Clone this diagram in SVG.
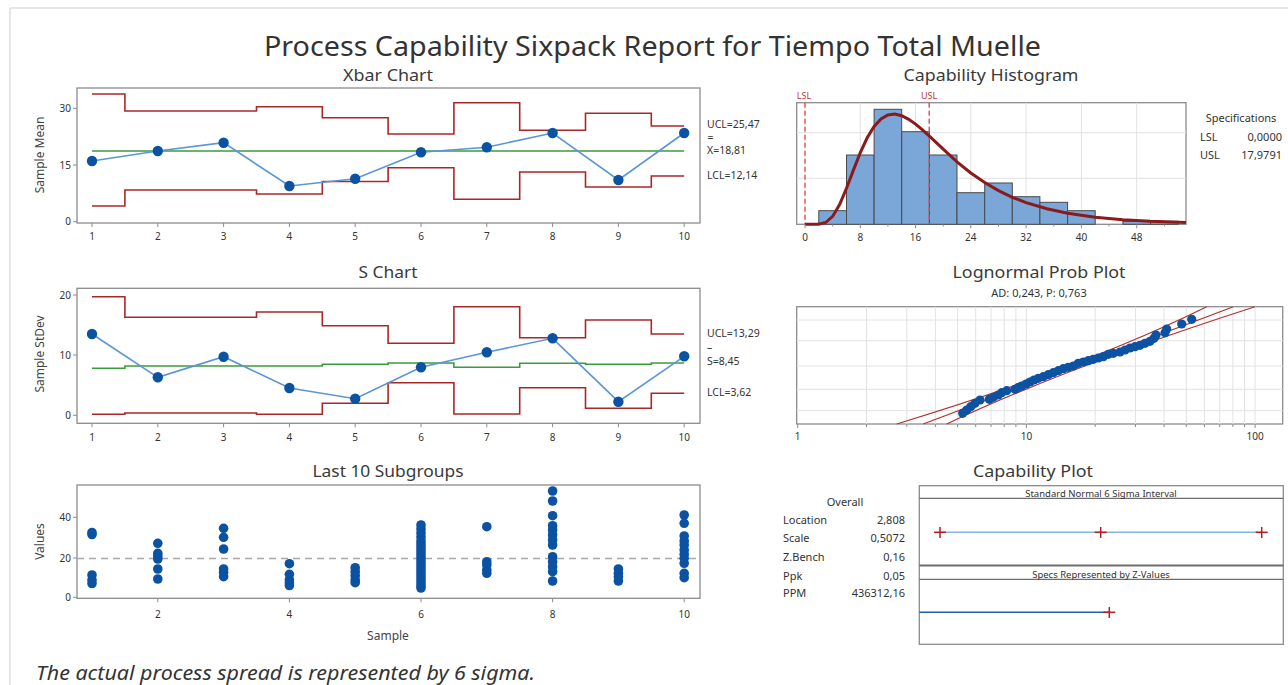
<svg xmlns="http://www.w3.org/2000/svg" width="1288" height="685" viewBox="0 0 1288 685">
<style>
text{font-family:"Noto Sans","Open Sans","Liberation Sans",sans-serif;fill:#333}
.ttl{font-size:17px;text-anchor:middle;fill:#3a3a3a}
.tk{font-size:10px;fill:#333}
.tkm{font-size:10px;text-anchor:middle;fill:#333}
.tkr{font-size:10px;text-anchor:end;fill:#333}
.lab{font-size:10.5px;fill:#333}
.ax{font-size:12px;text-anchor:middle;fill:#444}
.frame{fill:#fff;stroke:#8c8c8c;stroke-width:1.3}
.tick{stroke:#8c8c8c;stroke-width:1}
.lim{fill:none;stroke:#a82828;stroke-width:1.6}
.cl{fill:none;stroke:#3c9a3c;stroke-width:1.6}
.bl{fill:none;stroke:#5b95d6;stroke-width:1.6}
.dot{fill:#0b52a3}
.grid{stroke:#e2e2e2;stroke-width:1}
.bar{fill:#7aa6d8;stroke:#4a4a4a;stroke-width:1}
.spec{stroke:#e04a4a;stroke-width:1.4;stroke-dasharray:5,3}
.specl{font-size:9px;fill:#c03535;text-anchor:middle}
.ci{fill:none;stroke:#b03030;stroke-width:1.2}
.cross{stroke:#b02020;stroke-width:1.5}
</style>
<rect width="1288" height="685" fill="#fff"/>
<line x1="10" y1="8" x2="1288" y2="8" stroke="#e6e6e6" stroke-width="2"/>
<line x1="10" y1="8" x2="10" y2="685" stroke="#e6e6e6" stroke-width="2"/>
<text x="652.5" y="56" font-size="28" text-anchor="middle" textLength="777" lengthAdjust="spacingAndGlyphs" fill="#333">Process Capability Sixpack Report for Tiempo Total Muelle</text>

<g id="xbar-chart">
<text class="ttl" x="388" y="81" textLength="90" lengthAdjust="spacingAndGlyphs">Xbar Chart</text>
<rect class="frame" x="77" y="88" width="623" height="135"/>
<g class="tick">
<line x1="73" y1="108.3" x2="77" y2="108.3"/><line x1="73" y1="165" x2="77" y2="165"/><line x1="73" y1="221.7" x2="77" y2="221.7"/>
<line x1="92" y1="223" x2="92" y2="227"/><line x1="157.8" y1="223" x2="157.8" y2="227"/><line x1="223.6" y1="223" x2="223.6" y2="227"/><line x1="289.4" y1="223" x2="289.4" y2="227"/><line x1="355.2" y1="223" x2="355.2" y2="227"/><line x1="421" y1="223" x2="421" y2="227"/><line x1="486.8" y1="223" x2="486.8" y2="227"/><line x1="552.6" y1="223" x2="552.6" y2="227"/><line x1="618.4" y1="223" x2="618.4" y2="227"/><line x1="684.2" y1="223" x2="684.2" y2="227"/>
</g>
<text class="tkr" x="71" y="112">30</text><text class="tkr" x="71" y="168.5">15</text><text class="tkr" x="71" y="225">0</text>
<text class="tkm" x="92" y="240">1</text><text class="tkm" x="157.8" y="240">2</text><text class="tkm" x="223.6" y="240">3</text><text class="tkm" x="289.4" y="240">4</text><text class="tkm" x="355.2" y="240">5</text><text class="tkm" x="421" y="240">6</text><text class="tkm" x="486.8" y="240">7</text><text class="tkm" x="552.6" y="240">8</text><text class="tkm" x="618.4" y="240">9</text><text class="tkm" x="684.2" y="240">10</text>
<text class="ax" transform="translate(44,155) rotate(-90)">Sample Mean</text>
<path class="lim" d="M92,94 H124.9 V111 H256.5 V106.7 H322.3 V117.7 H388.1 V134 H453.9 V102.7 H519.7 V130.3 H585.5 V113.3 H651.3 V126 H684.2"/>
<path class="lim" d="M92,206 H124.9 V190 H256.5 V194 H322.3 V181.5 H388.1 V167.7 H453.9 V199.3 H519.7 V172 H585.5 V187 H651.3 V176 H684.2"/>
<path class="cl" d="M92,151 H684.2"/>
<polyline class="bl" points="92,161 157.8,151 223.6,142.7 289.4,186 355.2,178.7 421,152.3 486.8,147.3 552.6,133 618.4,180 684.2,133"/>
<g class="dot"><circle cx="92" cy="161" r="5.2"/><circle cx="157.8" cy="151" r="5.2"/><circle cx="223.6" cy="142.7" r="5.2"/><circle cx="289.4" cy="186" r="5.2"/><circle cx="355.2" cy="178.7" r="5.2"/><circle cx="421" cy="152.3" r="5.2"/><circle cx="486.8" cy="147.3" r="5.2"/><circle cx="552.6" cy="133" r="5.2"/><circle cx="618.4" cy="180" r="5.2"/><circle cx="684.2" cy="133" r="5.2"/></g>
<text class="lab" x="707" y="127.5">UCL=25,47</text>
<text class="lab" x="707.5" y="141" font-size="7">=</text>
<text class="lab" x="707" y="154">X=18,81</text>
<text class="lab" x="707" y="179">LCL=12,14</text>
</g>

<g id="s-chart">
<text class="ttl" x="388" y="278" textLength="59" lengthAdjust="spacingAndGlyphs">S Chart</text>
<rect class="frame" x="77" y="288.3" width="623" height="135"/>
<g class="tick">
<line x1="73" y1="295" x2="77" y2="295"/><line x1="73" y1="355" x2="77" y2="355"/><line x1="73" y1="415.3" x2="77" y2="415.3"/>
<line x1="92" y1="423.3" x2="92" y2="427.3"/><line x1="157.8" y1="423.3" x2="157.8" y2="427.3"/><line x1="223.6" y1="423.3" x2="223.6" y2="427.3"/><line x1="289.4" y1="423.3" x2="289.4" y2="427.3"/><line x1="355.2" y1="423.3" x2="355.2" y2="427.3"/><line x1="421" y1="423.3" x2="421" y2="427.3"/><line x1="486.8" y1="423.3" x2="486.8" y2="427.3"/><line x1="552.6" y1="423.3" x2="552.6" y2="427.3"/><line x1="618.4" y1="423.3" x2="618.4" y2="427.3"/><line x1="684.2" y1="423.3" x2="684.2" y2="427.3"/>
</g>
<text class="tkr" x="71" y="298.5">20</text><text class="tkr" x="71" y="358.5">10</text><text class="tkr" x="71" y="419">0</text>
<text class="tkm" x="92" y="441">1</text><text class="tkm" x="157.8" y="441">2</text><text class="tkm" x="223.6" y="441">3</text><text class="tkm" x="289.4" y="441">4</text><text class="tkm" x="355.2" y="441">5</text><text class="tkm" x="421" y="441">6</text><text class="tkm" x="486.8" y="441">7</text><text class="tkm" x="552.6" y="441">8</text><text class="tkm" x="618.4" y="441">9</text><text class="tkm" x="684.2" y="441">10</text>
<text class="ax" transform="translate(44,354) rotate(-90)">Sample StDev</text>
<path class="lim" d="M92,296.7 H124.9 V317.3 H256.5 V312 H322.3 V325.7 H388.1 V343.3 H453.9 V306.7 H519.7 V337.7 H585.5 V320 H651.3 V334 H684.2"/>
<path class="lim" d="M92,414.3 H124.9 V413 H256.5 V414.3 H322.3 V403.3 H388.1 V382.7 H453.9 V414 H519.7 V387.7 H585.5 V408.3 H651.3 V393.3 H684.2"/>
<path class="cl" d="M92,368.3 H124.9 V366 H322.3 V364.3 H388.1 V363 H453.9 V367.3 H519.7 V363.3 H585.5 V364.3 H651.3 V363 H684.2"/>
<polyline class="bl" points="92,334 157.8,377.3 223.6,356.7 289.4,388 355.2,398.7 421,367.3 486.8,352.3 552.6,338.3 618.4,401.7 684.2,356.3"/>
<g class="dot"><circle cx="92" cy="334" r="5.2"/><circle cx="157.8" cy="377.3" r="5.2"/><circle cx="223.6" cy="356.7" r="5.2"/><circle cx="289.4" cy="388" r="5.2"/><circle cx="355.2" cy="398.7" r="5.2"/><circle cx="421" cy="367.3" r="5.2"/><circle cx="486.8" cy="352.3" r="5.2"/><circle cx="552.6" cy="338.3" r="5.2"/><circle cx="618.4" cy="401.7" r="5.2"/><circle cx="684.2" cy="356.3" r="5.2"/></g>
<text class="lab" x="707" y="336.5">UCL=13,29</text>
<text class="lab" x="707" y="351" font-size="8">–</text>
<text class="lab" x="707" y="365">S=8,45</text>
<text class="lab" x="707" y="395.5">LCL=3,62</text>
</g>

<g id="last-10-subgroups">
<text class="ttl" x="388" y="477" textLength="151" lengthAdjust="spacingAndGlyphs">Last 10 Subgroups</text>
<rect class="frame" x="77" y="485" width="623" height="113.3"/>
<g class="tick">
<line x1="73" y1="517.3" x2="77" y2="517.3"/><line x1="73" y1="558" x2="77" y2="558"/><line x1="73" y1="597.3" x2="77" y2="597.3"/>
<line x1="157.8" y1="598.3" x2="157.8" y2="602.3"/><line x1="289.4" y1="598.3" x2="289.4" y2="602.3"/><line x1="421" y1="598.3" x2="421" y2="602.3"/><line x1="552.6" y1="598.3" x2="552.6" y2="602.3"/><line x1="684.2" y1="598.3" x2="684.2" y2="602.3"/>
</g>
<text class="tkr" x="71" y="521">40</text><text class="tkr" x="71" y="561.5">20</text><text class="tkr" x="71" y="601">0</text>
<text class="tkm" x="157.8" y="618">2</text><text class="tkm" x="289.4" y="618">4</text><text class="tkm" x="421" y="618">6</text><text class="tkm" x="552.6" y="618">8</text><text class="tkm" x="684.2" y="618">10</text>
<text class="ax" x="388" y="640">Sample</text>
<text class="ax" transform="translate(44,541.5) rotate(-90)">Values</text>
<line x1="77" y1="558.5" x2="700" y2="558.5" stroke="#a8a8a8" stroke-width="1.3" stroke-dasharray="7,5"/>
<g class="dot">
<circle cx="92" cy="532.5" r="4.8"/><circle cx="92" cy="534.5" r="4.8"/><circle cx="92" cy="575" r="4.8"/><circle cx="92" cy="580" r="4.8"/><circle cx="92" cy="583.5" r="4.8"/>
<circle cx="157.8" cy="543.3" r="4.8"/><circle cx="157.8" cy="553.3" r="4.8"/><circle cx="157.8" cy="556" r="4.8"/><circle cx="157.8" cy="559" r="4.8"/><circle cx="157.8" cy="569" r="4.8"/><circle cx="157.8" cy="579" r="4.8"/>
<circle cx="223.6" cy="528.3" r="4.8"/><circle cx="223.6" cy="537.3" r="4.8"/><circle cx="223.6" cy="549" r="4.8"/><circle cx="223.6" cy="569" r="4.8"/><circle cx="223.6" cy="572.3" r="4.8"/><circle cx="223.6" cy="576.7" r="4.8"/>
<circle cx="289.4" cy="563.7" r="4.8"/><circle cx="289.4" cy="574.3" r="4.8"/><circle cx="289.4" cy="580" r="4.8"/><circle cx="289.4" cy="583" r="4.8"/><circle cx="289.4" cy="585.5" r="4.8"/>
<circle cx="355.2" cy="567.7" r="4.8"/><circle cx="355.2" cy="571.7" r="4.8"/><circle cx="355.2" cy="575.7" r="4.8"/><circle cx="355.2" cy="580" r="4.8"/><circle cx="355.2" cy="582.7" r="4.8"/>
<circle cx="421" cy="525" r="4.8"/><circle cx="421" cy="529" r="4.8"/><circle cx="421" cy="533" r="4.8"/><circle cx="421" cy="537" r="4.8"/><circle cx="421" cy="541" r="4.8"/><circle cx="421" cy="544" r="4.8"/><circle cx="421" cy="547" r="4.8"/><circle cx="421" cy="550" r="4.8"/><circle cx="421" cy="553" r="4.8"/><circle cx="421" cy="556" r="4.8"/><circle cx="421" cy="559" r="4.8"/><circle cx="421" cy="562" r="4.8"/><circle cx="421" cy="565" r="4.8"/><circle cx="421" cy="568" r="4.8"/><circle cx="421" cy="571" r="4.8"/><circle cx="421" cy="574" r="4.8"/><circle cx="421" cy="577" r="4.8"/><circle cx="421" cy="580" r="4.8"/><circle cx="421" cy="583" r="4.8"/><circle cx="421" cy="586" r="4.8"/><circle cx="421" cy="588" r="4.8"/>
<circle cx="486.8" cy="526.7" r="4.8"/><circle cx="486.8" cy="561.7" r="4.8"/><circle cx="486.8" cy="565" r="4.8"/><circle cx="486.8" cy="570" r="4.8"/><circle cx="486.8" cy="573.3" r="4.8"/>
<circle cx="552.6" cy="491" r="4.8"/><circle cx="552.6" cy="501" r="4.8"/><circle cx="552.6" cy="515.7" r="4.8"/><circle cx="552.6" cy="525.7" r="4.8"/><circle cx="552.6" cy="530" r="4.8"/><circle cx="552.6" cy="535" r="4.8"/><circle cx="552.6" cy="540" r="4.8"/><circle cx="552.6" cy="545" r="4.8"/><circle cx="552.6" cy="556.7" r="4.8"/><circle cx="552.6" cy="561.7" r="4.8"/><circle cx="552.6" cy="566.7" r="4.8"/><circle cx="552.6" cy="571.7" r="4.8"/><circle cx="552.6" cy="581" r="4.8"/>
<circle cx="618.4" cy="569" r="4.8"/><circle cx="618.4" cy="573.3" r="4.8"/><circle cx="618.4" cy="576.7" r="4.8"/><circle cx="618.4" cy="581" r="4.8"/>
<circle cx="684.2" cy="515" r="4.8"/><circle cx="684.2" cy="523.3" r="4.8"/><circle cx="684.2" cy="536" r="4.8"/><circle cx="684.2" cy="541" r="4.8"/><circle cx="684.2" cy="545" r="4.8"/><circle cx="684.2" cy="550" r="4.8"/><circle cx="684.2" cy="554.3" r="4.8"/><circle cx="684.2" cy="558.3" r="4.8"/><circle cx="684.2" cy="563.3" r="4.8"/><circle cx="684.2" cy="573.3" r="4.8"/><circle cx="684.2" cy="577.7" r="4.8"/>
</g>
</g>

<g id="capability-histogram">
<text class="ttl" x="991" y="81" textLength="175" lengthAdjust="spacingAndGlyphs">Capability Histogram</text>
<rect class="frame" x="796.7" y="102.7" width="389.3" height="121.6"/>
<g class="grid">
<line x1="860.3" y1="102.7" x2="860.3" y2="224.3"/><line x1="915.6" y1="102.7" x2="915.6" y2="224.3"/><line x1="970.8" y1="102.7" x2="970.8" y2="224.3"/><line x1="1026.1" y1="102.7" x2="1026.1" y2="224.3"/><line x1="1081.4" y1="102.7" x2="1081.4" y2="224.3"/><line x1="1136.7" y1="102.7" x2="1136.7" y2="224.3"/>
<line x1="796.7" y1="132.7" x2="1186" y2="132.7"/><line x1="796.7" y1="178.3" x2="1186" y2="178.3"/>
</g>
<g>
<rect class="bar" x="818.8" y="210.7" width="27.7" height="13.6"/>
<rect class="bar" x="846.5" y="155" width="27.6" height="69.3"/>
<rect class="bar" x="874.1" y="109.3" width="27.6" height="115"/>
<rect class="bar" x="901.7" y="131.7" width="27.7" height="92.6"/>
<rect class="bar" x="929.4" y="155" width="27.6" height="69.3"/>
<rect class="bar" x="957" y="192.7" width="27.7" height="31.6"/>
<rect class="bar" x="984.7" y="183" width="27.6" height="41.3"/>
<rect class="bar" x="1012.3" y="196.7" width="27.6" height="27.6"/>
<rect class="bar" x="1039.9" y="202.3" width="27.7" height="22"/>
<rect class="bar" x="1067.6" y="210.7" width="27.6" height="13.6"/>
<rect class="bar" x="1122.9" y="221.3" width="27.6" height="3"/>
<rect class="bar" x="1150.5" y="221.3" width="27.6" height="3"/>
</g>
<line class="spec" x1="805" y1="102.7" x2="805" y2="224.3"/>
<line class="spec" x1="929.2" y1="102.7" x2="929.2" y2="224.3"/>
<text class="specl" x="804" y="99">LSL</text>
<text class="specl" x="929" y="99">USL</text>
<path fill="none" stroke="#8b1a1a" stroke-width="3" d="M805,224.3 L818.8,224.2 L825.7,222.5 L832.6,216.4 L839.6,204.6 L846.5,188.3 L853.4,170.1 L860.3,152.7 L867.2,137.8 L874.1,126.4 L881,118.9 L887.9,114.9 L894.8,114.1 L901.7,115.7 L908.7,119.3 L915.6,124.1 L922.5,129.9 L929.4,136.2 L943.2,149.2 L957,161.8 L970.8,173 L984.7,182.6 L998.5,190.6 L1012.3,197.3 L1026.1,202.6 L1046.9,208.8 L1067.6,213.2 L1095.2,217.2 L1122.9,219.7 L1150.5,221.3 L1186,222.5"/>
<g class="tick">
<line x1="805" y1="224.3" x2="805" y2="228.3"/><line x1="860.3" y1="224.3" x2="860.3" y2="228.3"/><line x1="915.6" y1="224.3" x2="915.6" y2="228.3"/><line x1="970.8" y1="224.3" x2="970.8" y2="228.3"/><line x1="1026.1" y1="224.3" x2="1026.1" y2="228.3"/><line x1="1081.4" y1="224.3" x2="1081.4" y2="228.3"/><line x1="1136.7" y1="224.3" x2="1136.7" y2="228.3"/>
<line x1="832.6" y1="224.3" x2="832.6" y2="226.5"/><line x1="887.9" y1="224.3" x2="887.9" y2="226.5"/><line x1="943.2" y1="224.3" x2="943.2" y2="226.5"/><line x1="998.5" y1="224.3" x2="998.5" y2="226.5"/><line x1="1053.8" y1="224.3" x2="1053.8" y2="226.5"/><line x1="1109" y1="224.3" x2="1109" y2="226.5"/><line x1="1164.3" y1="224.3" x2="1164.3" y2="226.5"/>
</g>
<text class="tkm" x="805" y="241">0</text><text class="tkm" x="860.3" y="241">8</text><text class="tkm" x="915.6" y="241">16</text><text class="tkm" x="970.8" y="241">24</text><text class="tkm" x="1026.1" y="241">32</text><text class="tkm" x="1081.4" y="241">40</text><text class="tkm" x="1136.7" y="241">48</text>
<text x="1241" y="122" font-size="11" text-anchor="middle">Specifications</text>
<text x="1200" y="141" font-size="11">LSL</text><text x="1282" y="141" font-size="11" text-anchor="end">0,0000</text>
<text x="1200" y="159" font-size="11">USL</text><text x="1282" y="159" font-size="11" text-anchor="end">17,9791</text>
</g>

<g id="lognormal-prob-plot">
<text class="ttl" x="1039" y="278" textLength="173" lengthAdjust="spacingAndGlyphs">Lognormal Prob Plot</text>
<text x="1039" y="297" font-size="11" text-anchor="middle" fill="#555">AD: 0,243, P: 0,763</text>
<rect class="frame" x="796.7" y="306.7" width="486" height="117.3"/>
<g class="grid">
<line x1="866.5" y1="306.7" x2="866.5" y2="424"/><line x1="906.8" y1="306.7" x2="906.8" y2="424"/><line x1="935.4" y1="306.7" x2="935.4" y2="424"/><line x1="957.6" y1="306.7" x2="957.6" y2="424"/><line x1="975.7" y1="306.7" x2="975.7" y2="424"/><line x1="991" y1="306.7" x2="991" y2="424"/><line x1="1004.2" y1="306.7" x2="1004.2" y2="424"/><line x1="1015.9" y1="306.7" x2="1015.9" y2="424"/><line x1="1026.4" y1="306.7" x2="1026.4" y2="424"/><line x1="1095.2" y1="306.7" x2="1095.2" y2="424"/><line x1="1135.5" y1="306.7" x2="1135.5" y2="424"/><line x1="1164.1" y1="306.7" x2="1164.1" y2="424"/><line x1="1186.3" y1="306.7" x2="1186.3" y2="424"/><line x1="1204.4" y1="306.7" x2="1204.4" y2="424"/><line x1="1219.7" y1="306.7" x2="1219.7" y2="424"/><line x1="1232.9" y1="306.7" x2="1232.9" y2="424"/><line x1="1244.6" y1="306.7" x2="1244.6" y2="424"/><line x1="1255.1" y1="306.7" x2="1255.1" y2="424"/>
<line x1="796.7" y1="320" x2="1282.7" y2="320"/><line x1="796.7" y1="340.7" x2="1282.7" y2="340.7"/><line x1="796.7" y1="366" x2="1282.7" y2="366"/><line x1="796.7" y1="389.3" x2="1282.7" y2="389.3"/><line x1="796.7" y1="410.7" x2="1282.7" y2="410.7"/>
</g>
<g class="tick">
<line x1="797.7" y1="424" x2="797.7" y2="428"/><line x1="866.5" y1="424" x2="866.5" y2="427"/><line x1="906.8" y1="424" x2="906.8" y2="427"/><line x1="935.4" y1="424" x2="935.4" y2="427"/><line x1="957.6" y1="424" x2="957.6" y2="427"/><line x1="975.7" y1="424" x2="975.7" y2="427"/><line x1="991" y1="424" x2="991" y2="427"/><line x1="1004.2" y1="424" x2="1004.2" y2="427"/><line x1="1015.9" y1="424" x2="1015.9" y2="427"/><line x1="1026.4" y1="424" x2="1026.4" y2="428"/><line x1="1095.2" y1="424" x2="1095.2" y2="427"/><line x1="1135.5" y1="424" x2="1135.5" y2="427"/><line x1="1164.1" y1="424" x2="1164.1" y2="427"/><line x1="1186.3" y1="424" x2="1186.3" y2="427"/><line x1="1204.4" y1="424" x2="1204.4" y2="427"/><line x1="1219.7" y1="424" x2="1219.7" y2="427"/><line x1="1232.9" y1="424" x2="1232.9" y2="427"/><line x1="1244.6" y1="424" x2="1244.6" y2="427"/><line x1="1255.1" y1="424" x2="1255.1" y2="428"/>
</g>
<text class="tkm" x="797.7" y="440">1</text><text class="tkm" x="1026.4" y="440">10</text><text class="tkm" x="1255.1" y="440">100</text>
<path class="ci" d="M896.7,424 Q1085.5,366.6 1206.7,306.7"/>
<path class="ci" d="M923.3,424 L1233.3,306.7"/>
<path class="ci" d="M946.7,424 Q1068.4,366.6 1255,306.7"/>
<g class="dot">
<circle cx="962.7" cy="413.3" r="4.6"/><circle cx="966.7" cy="410" r="4.6"/><circle cx="970.7" cy="406.7" r="4.6"/><circle cx="975" cy="403.3" r="4.6"/><circle cx="980" cy="400" r="4.6"/><circle cx="989.3" cy="399.3" r="4.6"/><circle cx="993.3" cy="397.3" r="4.6"/><circle cx="998.3" cy="395" r="4.6"/><circle cx="1001.7" cy="392.7" r="4.6"/><circle cx="1006.7" cy="390.7" r="4.6"/><circle cx="1015" cy="389.3" r="4.6"/><circle cx="1018.3" cy="387.3" r="4.6"/><circle cx="1021.7" cy="386" r="4.6"/><circle cx="1026" cy="384" r="4.6"/><circle cx="1030" cy="382" r="4.6"/><circle cx="1034" cy="380" r="4.6"/><circle cx="1038.3" cy="378.3" r="4.6"/><circle cx="1043.3" cy="376.7" r="4.6"/><circle cx="1048.3" cy="374.7" r="4.6"/><circle cx="1053.3" cy="372.7" r="4.6"/><circle cx="1058.3" cy="370.7" r="4.6"/><circle cx="1063.3" cy="368.7" r="4.6"/><circle cx="1068.3" cy="367.3" r="4.6"/><circle cx="1073.3" cy="366" r="4.6"/><circle cx="1078.3" cy="363.3" r="4.6"/><circle cx="1083.3" cy="362" r="4.6"/><circle cx="1088.3" cy="360.7" r="4.6"/><circle cx="1093.3" cy="359.3" r="4.6"/><circle cx="1098.3" cy="358" r="4.6"/><circle cx="1103.3" cy="356.7" r="4.6"/><circle cx="1108.3" cy="354.3" r="4.6"/><circle cx="1113.3" cy="353.3" r="4.6"/><circle cx="1120" cy="352" r="4.6"/><circle cx="1125" cy="350" r="4.6"/><circle cx="1130" cy="348" r="4.6"/><circle cx="1135" cy="346.7" r="4.6"/><circle cx="1140" cy="345.3" r="4.6"/><circle cx="1145" cy="343.3" r="4.6"/><circle cx="1150" cy="341.3" r="4.6"/><circle cx="1154" cy="338.3" r="4.6"/><circle cx="1156" cy="335" r="4.6"/><circle cx="1165" cy="332.7" r="4.6"/><circle cx="1166.7" cy="329" r="4.6"/><circle cx="1181.7" cy="324" r="4.6"/><circle cx="1191.7" cy="319.3" r="4.6"/>
</g>
</g>

<g id="capability-plot">
<text class="ttl" x="1033" y="477" textLength="120" lengthAdjust="spacingAndGlyphs">Capability Plot</text>
<rect class="frame" x="919.3" y="485.7" width="364" height="158.6"/>
<line x1="919.3" y1="498.3" x2="1283.3" y2="498.3" stroke="#6e6e6e" stroke-width="1.2"/>
<line x1="919.3" y1="565.5" x2="1283.3" y2="565.5" stroke="#6e6e6e" stroke-width="1.8"/>
<line x1="919.3" y1="579.3" x2="1283.3" y2="579.3" stroke="#6e6e6e" stroke-width="1.2"/>
<text x="1101" y="497" font-size="9.5" text-anchor="middle" fill="#444">Standard Normal 6 Sigma Interval</text>
<text x="1101" y="578" font-size="9.5" text-anchor="middle" fill="#444">Specs Represented by Z-Values</text>
<line x1="940" y1="532.3" x2="1261.7" y2="532.3" stroke="#8ab4e0" stroke-width="1.6"/>
<line x1="919.3" y1="612.3" x2="1109.3" y2="612.3" stroke="#1f5fa8" stroke-width="1.6"/>
<g class="cross">
<line x1="934" y1="532.3" x2="946" y2="532.3"/><line x1="940" y1="527" x2="940" y2="538"/>
<line x1="1094.7" y1="532.3" x2="1106.7" y2="532.3"/><line x1="1100.7" y1="527" x2="1100.7" y2="538"/>
<line x1="1255.7" y1="532.3" x2="1267.7" y2="532.3"/><line x1="1261.7" y1="527" x2="1261.7" y2="538"/>
<line x1="1103.3" y1="612.3" x2="1115.3" y2="612.3"/><line x1="1109.3" y1="607" x2="1109.3" y2="618"/>
</g>
<text x="845" y="506" font-size="11" text-anchor="middle">Overall</text>
<g font-size="11">
<text x="783" y="524">Location</text><text x="905" y="524" text-anchor="end">2,808</text>
<text x="783" y="542">Scale</text><text x="905" y="542" text-anchor="end">0,5072</text>
<text x="783" y="561">Z.Bench</text><text x="905" y="561" text-anchor="end">0,16</text>
<text x="783" y="579.5">Ppk</text><text x="905" y="579.5" text-anchor="end">0,05</text>
<text x="783" y="597">PPM</text><text x="905" y="597" text-anchor="end">436312,16</text>
</g>
</g>

<text x="36" y="680" font-size="20" font-style="italic" textLength="499" lengthAdjust="spacingAndGlyphs" fill="#404040">The actual process spread is represented by 6 sigma.</text>
</svg>
